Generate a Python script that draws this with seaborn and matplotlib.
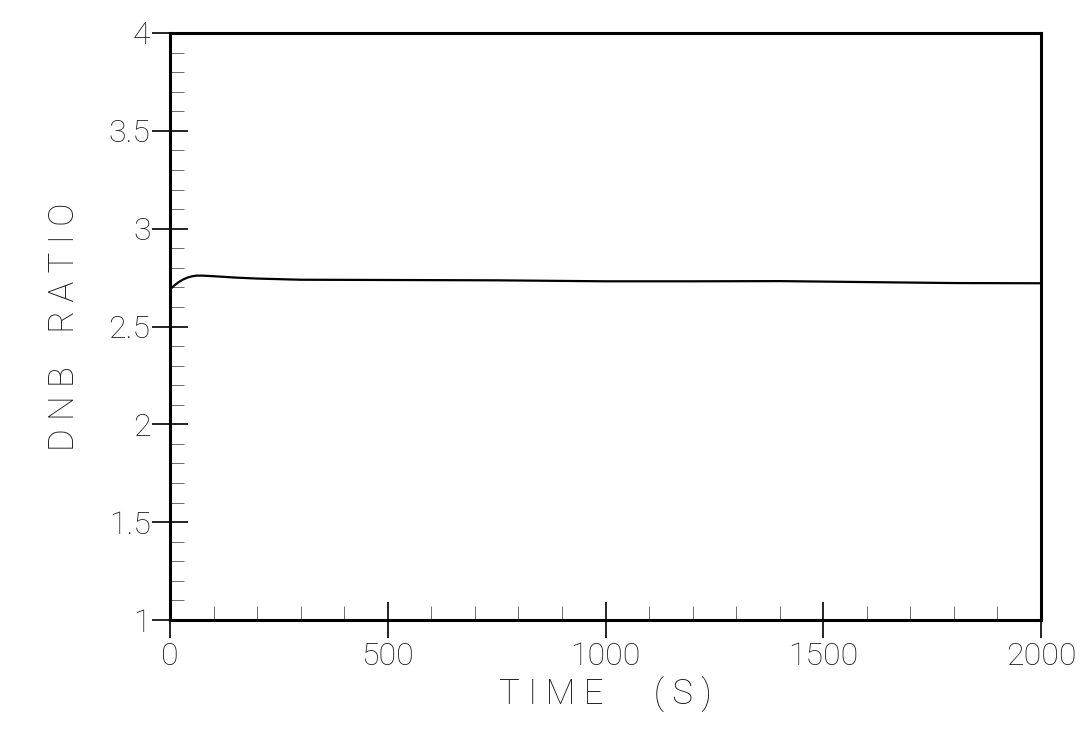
import matplotlib
matplotlib.use("Agg")
import matplotlib.pyplot as plt
from matplotlib.ticker import MultipleLocator
import seaborn as sns
import pandas as pd

# DNB ratio transient
time_s = [0, 10, 20, 30, 40, 50, 60, 75, 100, 150, 200, 300, 450, 600,
          750, 900, 1000, 1200, 1400, 1600, 1800, 2000]
dnb_ratio = [2.690, 2.710, 2.727, 2.740, 2.750, 2.756, 2.760, 2.760, 2.757,
             2.750, 2.745, 2.739, 2.738, 2.737, 2.736, 2.733, 2.731, 2.731,
             2.732, 2.727, 2.722, 2.721]

x_ticks = [0, 500, 1000, 1500, 2000]
x_tick_labels = ["0", "500", "1000", "1500", "2000"]
y_ticks = [1, 1.5, 2, 2.5, 3, 3.5, 4]
y_tick_labels = ["1", "1.5", "2", "2.5", "3", "3.5", "4"]

sns.set_theme(style="white")
plt.rcParams["font.family"] = ["Roboto", "DejaVu Sans"]
plt.rcParams["font.weight"] = "light"
plt.rcParams["axes.labelweight"] = "light"

df = pd.DataFrame({"t": time_s, "dnbr": dnb_ratio})

fig = plt.figure(figsize=(10.83, 7.48), dpi=100)
ax = fig.add_axes([170 / 1083, 1 - 620 / 748, 871 / 1083, 587 / 748])

sns.lineplot(data=df, x="t", y="dnbr", ax=ax, color="black", linewidth=1.6)

ax.set_xlim(0, 2000)
ax.set_ylim(1, 4)
ax.set_xticks(x_ticks)
ax.set_xticklabels(x_tick_labels)
ax.set_yticks(y_ticks)
ax.set_yticklabels(y_tick_labels)
ax.xaxis.set_minor_locator(MultipleLocator(100))
ax.yaxis.set_minor_locator(MultipleLocator(0.1))

for s in ax.spines.values():
    s.set_linewidth(2.2)
    s.set_color("black")

ax.tick_params(which="major", direction="inout", length=26, width=1.2,
               color="black", labelsize=23, labelcolor="#1a1a1a",
               bottom=True, left=True, top=False, right=False)
ax.tick_params(axis="x", which="major", pad=3)
ax.tick_params(axis="y", which="major", pad=1)
ax.tick_params(which="minor", direction="in", length=10, width=0.6,
               color="#555555", bottom=True, left=True, top=False, right=False)

ax.set_xlabel("T I M E      ( S )", fontsize=25, fontweight="light",
              labelpad=4, color="#1a1a1a")
ax.set_ylabel("D N B    R A T I O", fontsize=25, fontweight="light",
              labelpad=20, color="#1a1a1a")

fig.savefig("out.png", dpi=100, facecolor="white")
